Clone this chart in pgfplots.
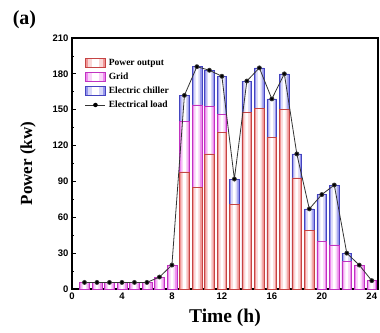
\documentclass[border=0pt]{standalone}
\usepackage{pgfplots}
\pgfplotsset{compat=1.18}
\usepackage{fontspec}
\setmainfont{Liberation Serif}
\setsansfont{Liberation Sans}
\definecolor{cR}{RGB}{232,80,80}
\definecolor{cM}{RGB}{226,60,226}
\definecolor{cB}{RGB}{80,80,225}
\pgfplotstableread{
h val
9 162
10 186
11 183
12 178
13 92
14 174
15 185
16 159
17 180
18 113
19 67
20 79
21 87
22 30
}\totaltab
\pgfplotstableread{
h val
1 5.5
2 5.5
3 5.5
4 5.5
5 5.5
6 5.5
7 10
8 20
9 140
10 154
11 153
12 146
20 40
21 37
22 23
23 20
24 7
}\gridtab
\pgfplotstableread{
h val
9 98
10 85
11 113
12 131
13 71
14 148
15 151
16 127
17 150
18 93
19 49
}\powertab
\pgfplotstableread{
h val
1 5.5
2 5.5
3 5.5
4 5.5
5 5.5
6 5.5
7 10
8 20
9 162
10 186
11 183
12 178
13 92
14 174
15 185
16 159
17 180
18 113
19 67
20 79
21 87
22 30
23 20
24 7
}\loadtab
\pgfplotsset{
  gbar/.style={ybar, bar shift=0pt, forget plot},
  legbar/.style={legend image code/.code={
     \fill[#1!60] (0pt,-4.5pt) rectangle (20pt,4.5pt);
     \fill[#1!22] (3pt,-4.5pt) rectangle (17pt,4.5pt);
     \fill[white] (7pt,-4.5pt) rectangle (13pt,4.5pt);
     \draw[#1!85!black, line width=0.5pt] (0pt,-4.5pt) rectangle (20pt,4.5pt);}},
  legline/.style={legend image code/.code={
     \draw[black!80, line width=0.8pt] (0pt,0pt) -- (20pt,0pt);
     \fill[black] (10pt,0pt) circle (2pt);}},
}
\newcommand{\gradbars}[2]{%
  \addplot[gbar, bar width=0.78, fill=#1!60, draw=#1!85!black, line width=0.5pt] table[x=h,y=val] {#2};
  \addplot[gbar, bar width=0.50, fill=#1!22, draw=none] table[x=h,y=val] {#2};
  \addplot[gbar, bar width=0.22, fill=white, draw=none] table[x=h,y=val] {#2};
  \addplot[gbar, bar width=0.78, fill=none, draw=#1!85!black, line width=0.5pt] table[x=h,y=val] {#2};
}
\begin{document}
\begin{tikzpicture}
\begin{axis}[
  scale only axis,
  width=306pt, height=251pt,
  xmin=0, xmax=24.5, ymin=0, ymax=210,
  xtick={0,4,...,24}, ytick={0,30,...,210},
  minor x tick num=1, minor y tick num=1,
  xtick pos=left, ytick pos=left,
  tick align=inside,
  major tick length=4pt, minor tick length=2pt,
  axis line style={line width=1.1pt},
  every tick/.style={line width=0.8pt, black},
  /pgf/number format/assume math mode=true,
  ticklabel style={font=\sffamily\bfseries\fontsize{9.5}{11}\selectfont},
  xlabel={\bfseries Time (h)}, ylabel={\bfseries Power (kw)},
  xlabel style={font=\fontsize{19.5}{22}\selectfont, at={(axis description cs:0.5,-0.115)}, anchor=center},
  ylabel style={font=\fontsize{17}{20}\selectfont, at={(axis description cs:-0.144,0.5)}, anchor=center},
  legend cell align=left,
  legend style={at={(axis description cs:0.042,0.925)}, anchor=north west, draw=none, fill=none,
    font=\bfseries\fontsize{9.5}{11}\selectfont, row sep=2pt, inner sep=0pt,
    nodes={inner xsep=3pt}},
  clip=false,
]
\addlegendimage{legbar=cR}\addlegendentry{Power output}
\addlegendimage{legbar=cM}\addlegendentry{Grid}
\addlegendimage{legbar=cB}\addlegendentry{Electric chiller}
\addlegendimage{legline}\addlegendentry{Electrical load}
\gradbars{cB}{\totaltab}
\gradbars{cM}{\gridtab}
\gradbars{cR}{\powertab}
\addplot[forget plot, black!80, line width=0.8pt, mark=*, mark size=2pt, mark options={fill=black}]
  table[x=h,y=val] {\loadtab};
\end{axis}
\node[font=\bfseries\fontsize{20}{24}\selectfont] at (-47.5pt,269.5pt) {(a)};
\pgfresetboundingbox
\useasboundingbox (-72pt,-43pt) rectangle (308pt,289pt);
\end{tikzpicture}
\end{document}
